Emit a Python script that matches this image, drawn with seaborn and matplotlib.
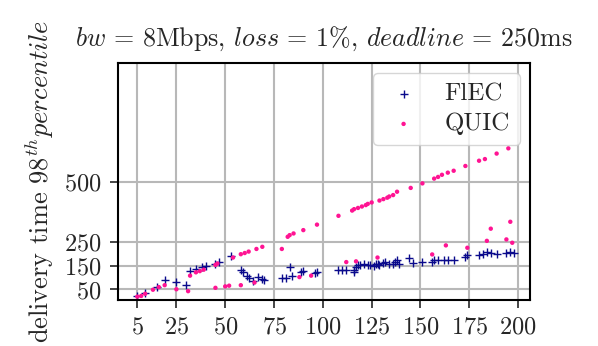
import matplotlib
matplotlib.use("Agg")
import matplotlib.pyplot as plt
import seaborn as sns
import pandas as pd

# FlEC: 98th percentile delivery time (ms) per message index
flec_x = [5, 9, 15, 19, 25, 30, 32, 35, 38, 40, 45, 47, 53, 58, 59, 61, 62, 64, 67, 69,
          70, 79, 81, 83, 84, 89, 90, 96, 97, 108, 110, 112, 116, 116, 117, 118, 119, 121,
          123, 124, 126, 127, 128, 129, 131, 132, 134, 136, 137, 138, 139, 144, 146, 151,
          156, 157, 159, 162, 164, 167, 173, 174, 180, 182, 184, 186, 189, 194, 196, 198]
flec_y = [23, 34, 60, 88, 82, 68, 126, 134, 144, 147, 156, 164, 190, 133, 123, 106, 99, 86,
          102, 95, 88, 98, 99, 143, 108, 122, 128, 120, 123, 130, 130, 130, 124, 130, 146,
          151, 154, 156, 151, 152, 147, 158, 156, 151, 162, 165, 157, 158, 166, 175, 157,
          180, 161, 165, 165, 175, 175, 175, 175, 175, 186, 194, 194, 197, 206, 201, 198,
          203, 206, 203]

# QUIC
quic_x = [5, 7, 9, 13, 16, 19, 25, 31, 32, 35, 37, 39, 45, 45, 46, 50, 52, 54, 58, 58,
          60, 62, 65, 66, 69, 79, 82, 83, 85, 88, 90, 94, 97, 108, 112, 115, 116, 117, 118,
          120, 122, 123, 125, 128, 129, 131, 133, 134, 136, 138, 145, 151, 156, 157, 159,
          161, 163, 164, 167, 173, 174, 180, 183, 184, 186, 189, 194, 195, 196, 197]
quic_y = [20, 23, 32, 49, 60, 68, 51, 43, 108, 122, 127, 133, 57, 153, 159, 63, 66, 184,
          68, 198, 203, 209, 79, 220, 229, 220, 271, 278, 285, 102, 299, 108, 322, 359, 165,
          381, 387, 168, 392, 398, 404, 409, 415, 184, 423, 429, 435, 440, 446, 460, 476,
          495, 197, 515, 522, 531, 235, 540, 548, 568, 225, 590, 597, 254, 305, 620, 260,
          642, 334, 246]

xticks = [5, 25, 50, 75, 100, 125, 150, 175, 200]
yticks = [50, 150, 250, 500]

sns.set_style("ticks", {"axes.grid": True, "grid.color": "#b8b8b8",
                        "axes.edgecolor": "black"})
plt.rcParams["font.family"] = "serif"
plt.rcParams["font.serif"] = ["cmr10", "DejaVu Serif"]
plt.rcParams["mathtext.fontset"] = "cm"
plt.rcParams["axes.formatter.use_mathtext"] = True

df_flec = pd.DataFrame({"x": flec_x, "y": flec_y})
df_quic = pd.DataFrame({"x": quic_x, "y": quic_y})

fig = plt.figure(figsize=(5.98, 3.46), dpi=100)
ax = fig.add_axes([0.197, 0.133, 0.689, 0.685])

sns.scatterplot(data=df_flec, x="x", y="y", ax=ax, marker="+", s=30,
                color="#0a0a8c", linewidth=1.0, label="FlEC")
sns.scatterplot(data=df_quic, x="x", y="y", ax=ax, marker="o", s=10,
                color="#ff1493", edgecolor="none", label="QUIC")

ax.set_xlim(-5, 206)
ax.set_ylim(6, 1000)
ax.set_xticks(xticks)
ax.set_yticks(yticks)
ax.tick_params(labelsize=17.5, width=1.2, length=5.5, pad=6)
ax.grid(True, color="#b8b8b8", linewidth=1.5)
for sp in ax.spines.values():
    sp.set_linewidth(1.5)

ax.set_xlabel("")
ax.set_ylabel(r"delivery time 98$^{th}$$percentile$", fontsize=19, labelpad=6)
ax.set_title(r"$bw$ = 8Mbps, $loss$ = 1%, $deadline$ = 250ms", fontsize=18.7, pad=12)
ax.legend(loc="upper right", fontsize=18, markerscale=1.0, framealpha=0.8,
          handlelength=1.68, handletextpad=0.8, borderpad=0.4,
          labelspacing=0.3, borderaxespad=0.4)

fig.savefig("out.png", dpi=100)
